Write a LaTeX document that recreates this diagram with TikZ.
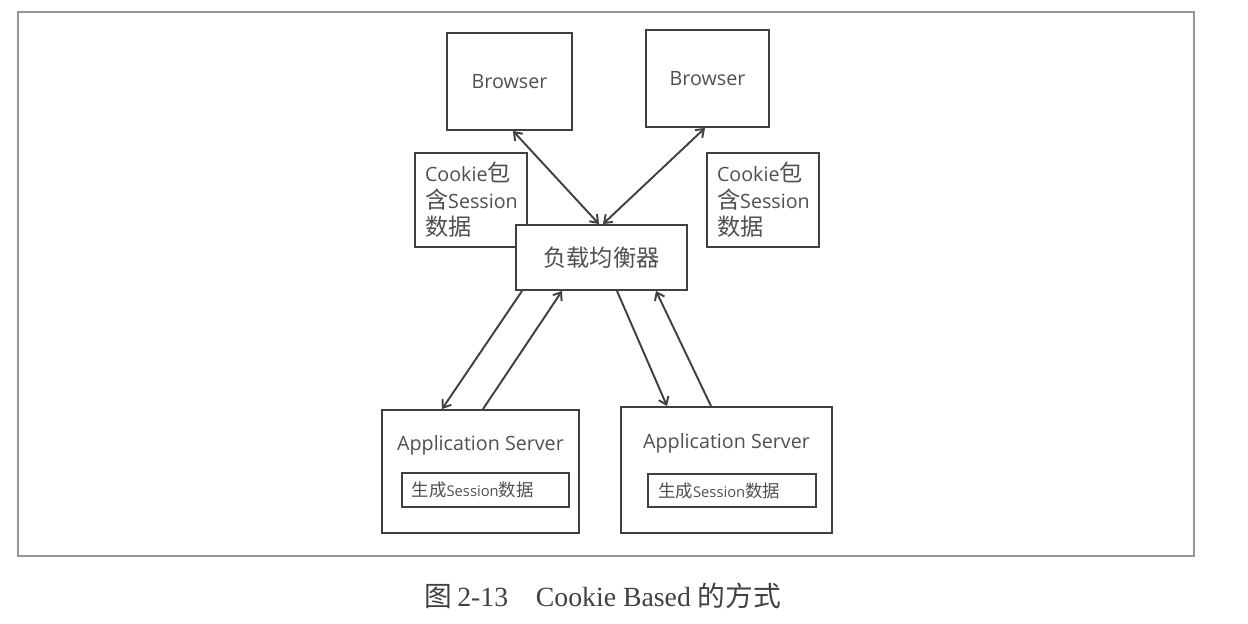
\documentclass[tikz,border=0pt]{standalone}
\usepackage{fontspec}
\setmainfont{Open Sans}
\newfontfamily\cjk[Scale=1.18]{Noto Sans CJK SC}
\newfontfamily\capfont{Liberation Serif}
\newfontfamily\capcjk{Noto Sans CJK SC}
\usetikzlibrary{arrows.meta, positioning, calc}
\definecolor{my_line}{RGB}{64, 64, 64}
\definecolor{my_text}{RGB}{80, 80, 80}
\definecolor{my_frame}{RGB}{150, 150, 150}
\tikzset {
  box/.style = {draw=my_line, line width=1.1pt, rectangle, fill=white, text=my_text, font=\fontsize{11.2}{15.4}\selectfont},
  note/.style = {box, align=left, text width=1.84cm, inner xsep=0.2cm, minimum height=1.88cm},
  inner/.style = {box, font=\fontsize{8.4}{10}\selectfont, align=left, text width=2.95cm, inner xsep=0.2cm, minimum height=0.67cm},
  title/.style = {text=my_text, font=\fontsize{11.2}{14}\selectfont, inner sep=0pt},
  line/.style = {color=my_line, line width=1.1pt, >={Straight Barb[length=4pt, width=6pt]}},
  frame/.style = {draw=my_frame, line width=0.9pt}
}

\begin{document}
\begin{tikzpicture}[x=0.02cm, y=-0.02cm]
    \useasboundingbox (0,0) rectangle (1248,623);
    \draw[frame] (18,12) rectangle (1194,556);

    % browsers and load balancer
    \node[box, minimum width=2.5cm, minimum height=1.94cm] (b1) at (509.5,81.5) {Browser};
    \node[box, minimum width=2.46cm, minimum height=1.94cm] (b2) at (707.5,78.5) {Browser};
    \node[note] (c1) at (471,200) {Cookie{\cjk 包}\\{\cjk 含}Session\\{\cjk 数据}};
    \node[note] (c2) at (763,200) {Cookie{\cjk 包}\\{\cjk 含}Session\\{\cjk 数据}};
    \node[box, minimum width=3.42cm, minimum height=1.3cm] (lb) at (601.5,257.5) {\cjk 负载均衡器};

    % application servers
    \node[box, minimum width=3.94cm, minimum height=2.46cm] (as1) at (480.5,471.5) {};
    \node[title] (t1) at ([yshift=0.53cm]as1.center) {Application Server};
    \node[inner] (s1) at (485.5,490) {{\cjk 生成}Session{\cjk 数据}};
    \node[box, minimum width=4.22cm, minimum height=2.52cm] (as2) at (726.5,470) {};
    \node[title] (t2) at ([yshift=0.54cm]as2.center) {Application Server};
    \node[inner] (s2) at (732,490.5) {{\cjk 生成}Session{\cjk 数据}};

    \draw[line, <->] ([xshift=0.07cm]b1.south) -- ([xshift=-0.05cm]lb.north);
    \draw[line, <->] ([xshift=-0.05cm]b2.south) -- ([xshift=0.03cm]lb.north);
    \draw[line, ->] ([xshift=-1.59cm]lb.south) -- ([xshift=-0.77cm]as1.north);
    \draw[line, ->] ([xshift=0.05cm]as1.north) -- ([xshift=-0.79cm]lb.south);
    \draw[line, ->] ([xshift=0.31cm]lb.south) -- ([xshift=-1.19cm]as2.north);
    \draw[line, ->] ([xshift=-0.31cm]as2.north) -- ([xshift=1.09cm]lb.south);

    \node[text=my_line, font=\capfont\fontsize{15.8}{19}\selectfont] (cap) at (603,596) {{\capcjk 图}\,2-13\quad Cookie Based {\capcjk 的方式}};
\end{tikzpicture}
\end{document}
